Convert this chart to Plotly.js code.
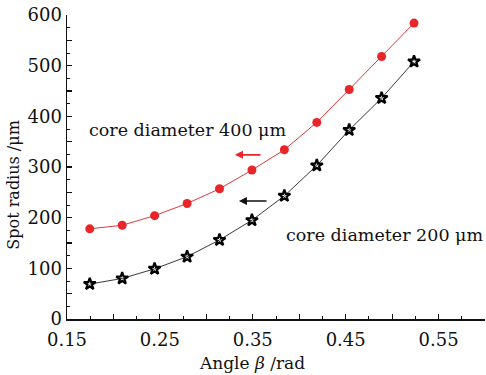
<!DOCTYPE html>
<html>
<head>
<meta charset="utf-8">
<script src="https://cdn.plot.ly/plotly-3.0.1.min.js"></script>
<style>html,body{margin:0;padding:0;background:#fff;}#chart{width:486px;height:375px;}</style>
</head>
<body>
<div id="chart"></div>
<script>
// Angle beta (rad): 10 deg to 30 deg in 2 deg steps
const angle = [0.1745, 0.2094, 0.2443, 0.2793, 0.3142, 0.3491, 0.3840, 0.4189, 0.4538, 0.4887, 0.5236];
const radius400 = [178, 185, 204, 228, 257, 294, 334, 388, 453, 518, 584];
const radius200 = [69, 80, 99, 123, 156, 195, 243, 303, 373, 436, 508];
const xTickVals = [0.15, 0.2, 0.25, 0.3, 0.35, 0.4, 0.45, 0.5, 0.55, 0.6];
const xTickText = ['0.15', '', '0.25', '', '0.35', '', '0.45', '', '0.55', ''];
const yTickVals = [0, 50, 100, 150, 200, 250, 300, 350, 400, 450, 500, 550, 600];
const yTickText = ['0', '', '100', '', '200', '', '300', '', '400', '', '500', '', '600'];
const label400 = 'core diameter 400 \u03bcm';
const label200 = 'core diameter 200 \u03bcm';

const font = 'DejaVu Serif, serif';

const traces = [
  {
    x: angle, y: radius400, type: 'scatter', mode: 'lines+markers',
    line: {color: '#e03a3a', width: 1},
    marker: {symbol: 'circle', size: 9, color: '#e8262a'},
    name: label400, showlegend: false
  },
  {
    x: angle, y: radius200, type: 'scatter', mode: 'lines+markers',
    line: {color: '#222', width: 0.9},
    marker: {symbol: 'star-open', size: 9, color: '#000', line: {color: '#000', width: 2.2}},
    name: label200, showlegend: false
  }
];

const layout = {
  width: 486, height: 375,
  margin: {l: 67, r: 1, t: 15, b: 56},
  paper_bgcolor: '#fff', plot_bgcolor: '#fff',
  font: {family: font, size: 18, color: '#111'},
  xaxis: {
    range: [0.15, 0.6], tickmode: 'array', tickvals: xTickVals, ticktext: xTickText,
    ticks: 'inside', ticklen: 5, tickwidth: 1.2, tickcolor: '#111', ticklabelstandoff: 4,
    showline: true, linecolor: '#111', linewidth: 1.5, showgrid: false, zeroline: false,
    minor: {dtick: 0.025, tick0: 0.15, ticks: 'inside', ticklen: 3, tickwidth: 1, tickcolor: '#111', showgrid: false},
    tickfont: {family: font, size: 18, color: '#111'}
  },
  yaxis: {
    range: [0, 600], tickmode: 'array', tickvals: yTickVals, ticktext: yTickText,
    ticks: 'inside', ticklen: 5, tickwidth: 1.2, tickcolor: '#111',
    showline: true, linecolor: '#111', linewidth: 1.5, showgrid: false, zeroline: false,
    minor: {dtick: 25, tick0: 0, ticks: 'inside', ticklen: 3, tickwidth: 1, tickcolor: '#111', showgrid: false},
    tickfont: {family: font, size: 18, color: '#111'}
  },
  annotations: [
    {xref: 'x', yref: 'y', x: 0.28, y: 373, text: label400, showarrow: false, xanchor: 'center', yanchor: 'middle', font: {family: font, size: 17.5, color: '#111'}},
    {xref: 'x', yref: 'y', x: 0.4923, y: 166, text: label200, showarrow: false, xanchor: 'center', yanchor: 'middle', font: {family: font, size: 17.5, color: '#111'}},
    {xref: 'x', yref: 'y', x: 0.3308, y: 324, axref: 'x', ayref: 'y', ax: 0.3599, ay: 324, text: '', showarrow: true, arrowhead: 2, arrowsize: 1, arrowwidth: 1.6, arrowcolor: '#e8262a'},
    {xref: 'x', yref: 'y', x: 0.3351, y: 233, axref: 'x', ayref: 'y', ax: 0.3664, ay: 233, text: '', showarrow: true, arrowhead: 2, arrowsize: 1, arrowwidth: 1.6, arrowcolor: '#111'},
    {xref: 'paper', yref: 'paper', x: (252 - 67) / 418, y: -0.145, text: 'Angle <i>\u03b2</i> /rad', showarrow: false, xanchor: 'center', yanchor: 'middle', font: {family: font, size: 17, color: '#111'}},
    {xref: 'paper', yref: 'paper', x: -0.13, y: (319 - 185) / 304, text: 'Spot radius /\u03bcm', textangle: -90, showarrow: false, xanchor: 'center', yanchor: 'middle', font: {family: font, size: 16, color: '#111'}}
  ]
};

Plotly.newPlot('chart', traces, layout, {displayModeBar: false, staticPlot: true});
</script>
</body>
</html>
